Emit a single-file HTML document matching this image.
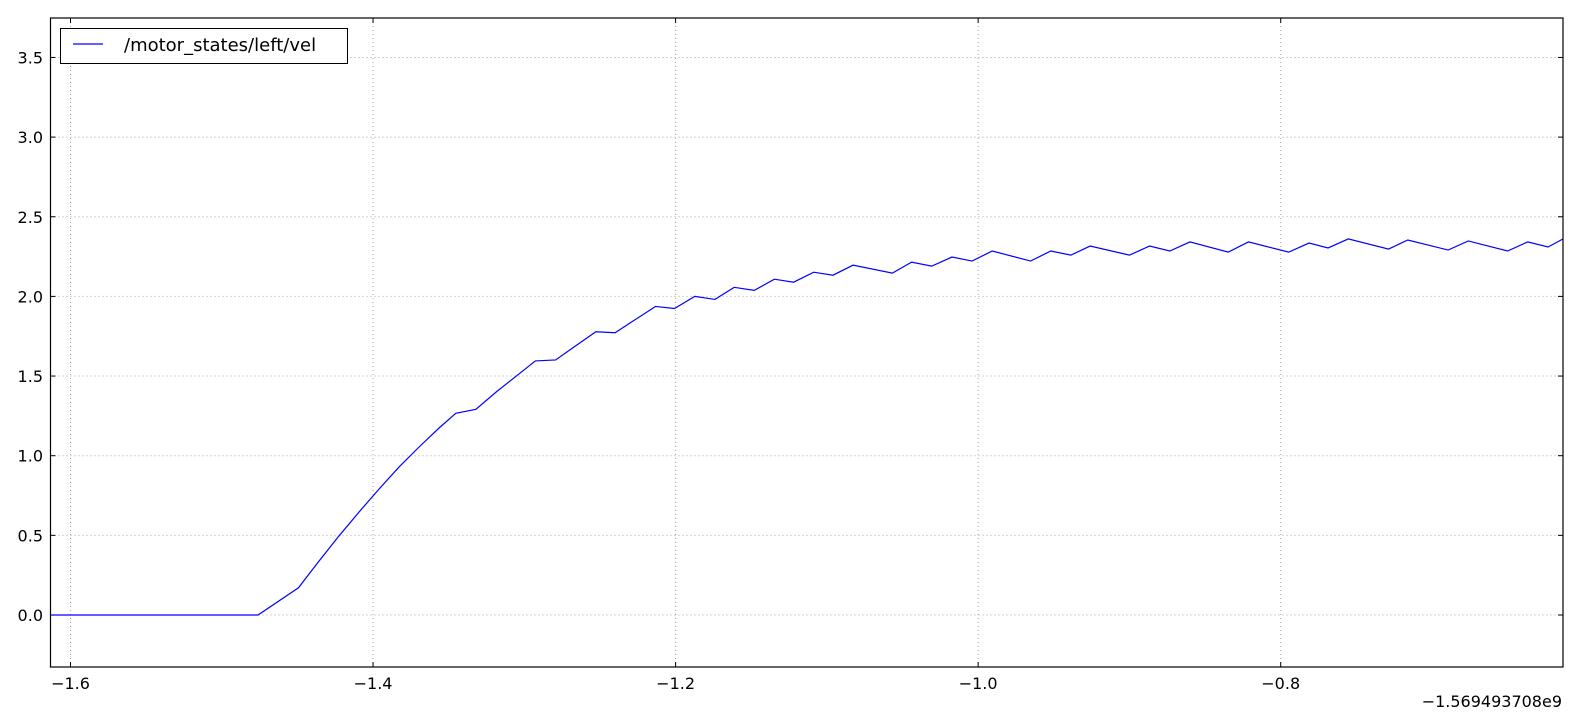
<!DOCTYPE html>
<html><head><meta charset="utf-8"><style>
html,body{margin:0;padding:0;background:#fff;overflow:hidden;width:1581px;height:727px;}
svg{display:block;font-family:"DejaVu Sans","Liberation Sans",sans-serif;}
</style></head><body>
<svg id="chart" width="1581" height="727" viewBox="0 0 1581 727"></svg>
<script>
const xs=[-1.6133,-1.476,-1.4493,-1.436,-1.4227,-1.4093,-1.396,-1.3827,-1.3693,-1.356,-1.3453,-1.332,-1.3187,-1.3053,-1.2927,-1.2793,-1.266,-1.2527,-1.24,-1.2267,-1.2133,-1.2007,-1.1873,-1.174,-1.1613,-1.148,-1.1347,-1.122,-1.1087,-1.096,-1.0827,-1.0567,-1.044,-1.0307,-1.0173,-1.004,-0.9907,-0.9653,-0.952,-0.9387,-0.926,-0.9,-0.8867,-0.8733,-0.86,-0.8347,-0.8213,-0.7947,-0.7813,-0.7687,-0.7553,-0.7287,-0.716,-0.6893,-0.676,-0.65,-0.6367,-0.6233,-0.6133];
const ys=[0,0,0.171,0.335,0.494,0.646,0.791,0.930,1.057,1.177,1.266,1.291,1.399,1.5,1.595,1.601,1.690,1.778,1.772,1.854,1.937,1.924,2.0,1.981,2.057,2.038,2.108,2.089,2.152,2.133,2.196,2.146,2.215,2.190,2.247,2.222,2.285,2.222,2.285,2.259,2.316,2.259,2.316,2.285,2.342,2.278,2.342,2.278,2.335,2.304,2.361,2.297,2.354,2.291,2.348,2.285,2.342,2.310,2.361];
const xTicks=[-1.6,-1.4,-1.2,-1.0,-0.8];
const xTickLabels=["\u22121.6","\u22121.4","\u22121.2","\u22121.0","\u22120.8"];
const yTicks=[0,0.5,1,1.5,2,2.5,3,3.5];
const yTickLabels=["0.0","0.5","1.0","1.5","2.0","2.5","3.0","3.5"];
const L=50.5,R=1563,T=18,B=667;
const X=v=>70.5+(v+1.6)*1512.75;
const Y=v=>615-v*159.3;
const svg=document.getElementById('chart');
const NS='http://www.w3.org/2000/svg';
function mk(t,a,p){const e=document.createElementNS(NS,t);for(const k in a)e.setAttribute(k,a[k]);(p||svg).appendChild(e);return e;}
xTicks.forEach((v,i)=>{
 const g=mk('line',{x1:X(v),x2:X(v),y1:T,y2:B,stroke:'#000','stroke-opacity':0.35,'stroke-dasharray':'1,3'});
 
 
 mk('line',{x1:X(v),x2:X(v),y1:B,y2:B-5,stroke:'#000'});
 mk('line',{x1:X(v),x2:X(v),y1:T,y2:T+5,stroke:'#000'});
 const t=mk('text',{x:X(v),y:689,'text-anchor':'middle','font-size':16});
 t.textContent=xTickLabels[i];
 
 
});
yTicks.forEach((v,i)=>{
 const g=mk('line',{x1:L,x2:R,y1:Y(v),y2:Y(v),stroke:'#000','stroke-opacity':0.35,'stroke-dasharray':'1,3'});
 
 
 mk('line',{x1:L,x2:L+5,y1:Y(v),y2:Y(v),stroke:'#000'});
 mk('line',{x1:R,x2:R-5,y1:Y(v),y2:Y(v),stroke:'#000'});
 const t=mk('text',{x:43,y:Y(v)+6,'text-anchor':'end','font-size':16});
 t.textContent=yTickLabels[i];
 
 
});
const line=mk('polyline',{points:xs.map((x,i)=>X(x)+','+Y(ys[i])).join(' '),fill:'none',stroke:'#0000ff','stroke-width':1.2});


const fr=mk('rect',{x:L,y:T,width:R-L,height:B-T,fill:'none',stroke:'#000','stroke-width':1.2});


const lg=mk('g',{});


mk('rect',{x:60.5,y:28.5,width:287,height:35,fill:'#fff',stroke:'#000'},lg);
mk('line',{x1:73,x2:103,y1:44,y2:44,stroke:'#0000ff','stroke-width':1.2},lg);
const lt=mk('text',{x:124,y:51,'font-size':18},lg);
lt.textContent='/motor_states/left/vel';
const off=mk('text',{x:1562,y:707,'text-anchor':'end','font-size':16});
off.textContent='\u22121.569493708e9';


</script>
</body></html>
